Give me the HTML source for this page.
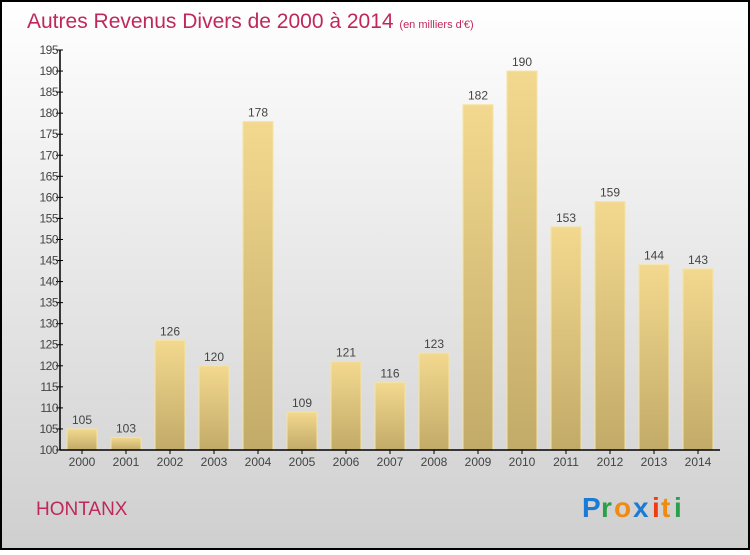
<!DOCTYPE html>
<html><head><meta charset="utf-8"><style>
body{margin:0;width:750px;height:550px;overflow:hidden;font-family:"Liberation Sans",sans-serif}
</style></head><body>
<svg width="750" height="550" xmlns="http://www.w3.org/2000/svg">
<defs>
<linearGradient id="bg" x1="0" y1="0" x2="0" y2="1"><stop offset="0" stop-color="#ffffff"/><stop offset="1" stop-color="#cfcfcf"/></linearGradient>
<linearGradient id="bar" x1="0" y1="0" x2="0" y2="1"><stop offset="0" stop-color="#f3d98f"/><stop offset="1" stop-color="#c2aa68"/></linearGradient>
</defs>
<rect x="1" y="1" width="748" height="548" fill="url(#bg)" stroke="#000" stroke-width="2"/>
<text x="27" y="28" font-size="21" fill="#c0285a">Autres Revenus Divers de 2000 à 2014 <tspan font-size="11">(en milliers d'€)</tspan></text>
<g id="plot"></g>
<text x="36" y="515" font-size="19" fill="#c0285a">HONTANX</text>
<g font-size="28" font-family="Liberation Sans, sans-serif" font-weight="bold">
<text x="582" y="517" fill="#1a7ad4">P</text><text x="601" y="517" fill="#2aa04a">r</text><text x="614" y="517" fill="#f08a10">o</text><text x="633" y="517" fill="#1a7ad4">x</text><text x="652" y="517" fill="#f03a10">i</text><text x="661" y="517" fill="#f08a10">t</text><text x="674" y="517" fill="#2aa04a">i</text>
</g>
</svg>
<script>
const categories=["2000","2001","2002","2003","2004","2005","2006","2007","2008","2009","2010","2011","2012","2013","2014"];
const values=[105,103,126,120,178,109,121,116,123,182,190,153,159,144,143];
const yTicks=[100,105,110,115,120,125,130,135,140,145,150,155,160,165,170,175,180,185,190,195];
const NS="http://www.w3.org/2000/svg";
const g=document.getElementById('plot');
const x0=60,band=44,y0=450,yMin=100,pxu=400/95;
const y=v=>y0-(v-yMin)*pxu;
const xc=i=>x0+band*i+band/2;
function mk(t,a,txt){const e=document.createElementNS(NS,t);for(const k in a)e.setAttribute(k,a[k]);if(txt!==undefined)e.textContent=txt;g.appendChild(e);return e;}
values.forEach((v,i)=>{
 const r=mk('rect',{x:xc(i)-15,y:y(v),width:30,height:y0-y(v),fill:'url(#bar)',stroke:'#f5e3a3','stroke-width':1});
 
 
 const l=mk('text',{x:xc(i),y:y(v)-5,'text-anchor':'middle','font-size':12,fill:'#444'},String(v));
 
 
 const c=mk('text',{x:xc(i),y:466,'text-anchor':'middle','font-size':12,fill:'#444'},categories[i]);
 
 
 const t=mk('line',{x1:xc(i),x2:xc(i),y1:y0,y2:y0+4,stroke:'#000'});
 
 
});
yTicks.forEach(v=>{
 const t=mk('line',{x1:x0-4,x2:x0+3,y1:y(v),y2:y(v),stroke:'#000'});
 
 
 const l=mk('text',{x:x0-2,y:y(v)+4,'text-anchor':'end','font-size':12,fill:'#444','letter-spacing':'-0.5'},String(v));
 
 
});
const ya=mk('line',{x1:x0,x2:x0,y1:y(195),y2:y0,stroke:'#000','stroke-width':1.5});


const xa=mk('line',{x1:x0,x2:x0+band*categories.length,y1:y0,y2:y0,stroke:'#000','stroke-width':1.5});


</script>
</body></html>
